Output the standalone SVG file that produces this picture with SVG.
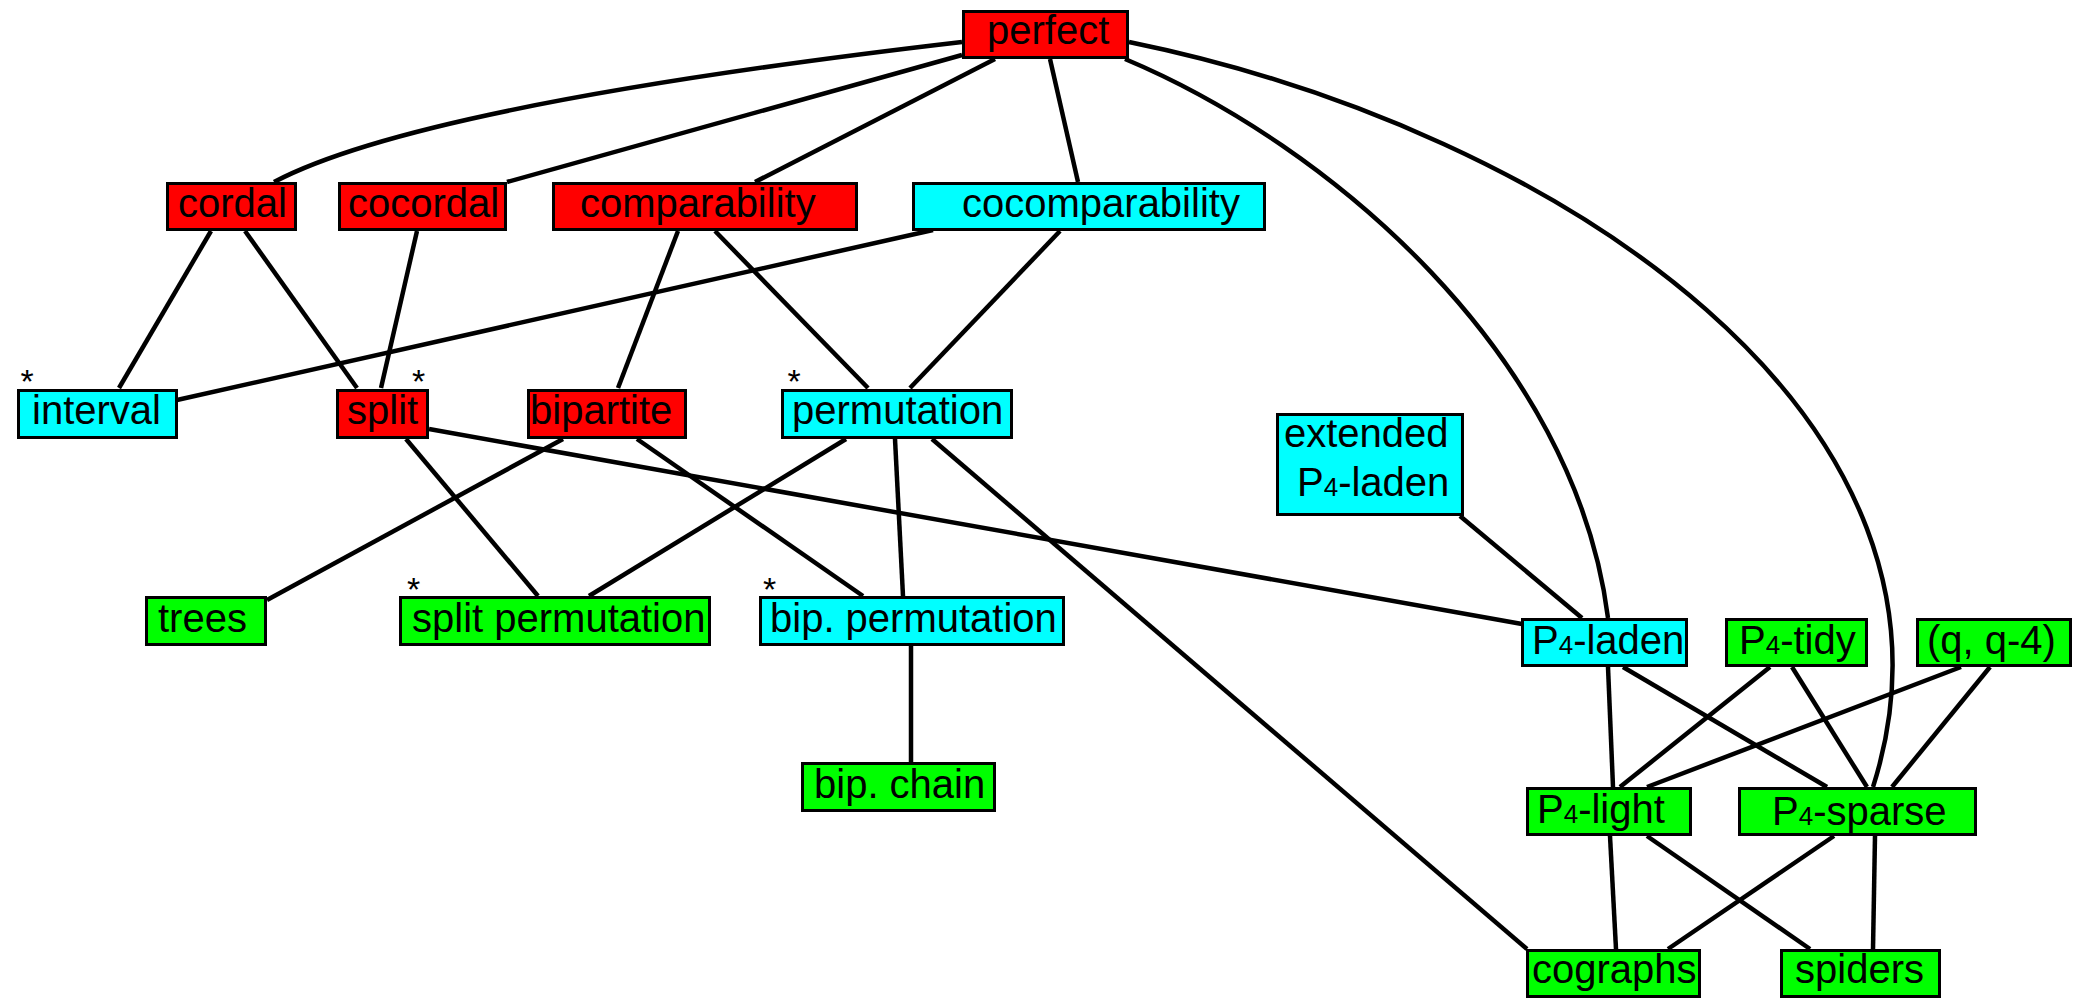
<svg xmlns="http://www.w3.org/2000/svg" width="2080" height="998" viewBox="0 0 2080 998">
  <style>
    .node rect { stroke: #000; stroke-width: 3; }
    .red rect { fill: #ff0000; }
    .cyan rect { fill: #00ffff; }
    .green rect { fill: #00ff00; }
    text { font-family: "Liberation Sans", Arial, sans-serif; font-size: 40px; fill: #000; }
    .sub { font-size: 26px; }
    .star { font-size: 34px; text-anchor: middle; }
    #edges line, #edges path { stroke: #000; stroke-width: 4.5; fill: none; }
  </style>

  <rect width="2080" height="998" fill="#fff"/>

  <g id="edges">
    <!-- perfect -->
    <path d="M962 42 Q420 105 274 182"/>
    <line x1="962" y1="55" x2="507" y2="182"/>
    <line x1="995" y1="59" x2="755" y2="182"/>
    <line x1="1050" y1="59" x2="1078" y2="182"/>
    <path d="M1125 59 C1330 145 1575 355 1608 618"/>
    <path d="M1129 42 C1560 130 1990 420 1873 787"/>
    <!-- second row -->
    <line x1="211" y1="231" x2="119" y2="388"/>
    <line x1="245" y1="231" x2="357" y2="388"/>
    <line x1="417" y1="231" x2="381" y2="388"/>
    <line x1="678" y1="231" x2="618" y2="388"/>
    <line x1="715" y1="231" x2="868" y2="388"/>
    <line x1="933" y1="230" x2="177" y2="400"/>
    <line x1="1060" y1="231" x2="910" y2="388"/>
    <!-- third row -->
    <line x1="429" y1="429" x2="1522" y2="624"/>
    <line x1="563" y1="439" x2="267" y2="600"/>
    <line x1="406" y1="439" x2="538" y2="596"/>
    <line x1="637" y1="439" x2="863" y2="596"/>
    <line x1="846" y1="439" x2="589" y2="596"/>
    <line x1="895" y1="439" x2="903" y2="596"/>
    <line x1="932" y1="439" x2="1527" y2="949"/>
    <line x1="911" y1="646" x2="911" y2="762"/>
    <!-- P4 family -->
    <line x1="1460" y1="516" x2="1582" y2="618"/>
    <line x1="1608" y1="667" x2="1613" y2="787"/>
    <line x1="1623" y1="667" x2="1827" y2="787"/>
    <line x1="1770" y1="667" x2="1620" y2="787"/>
    <line x1="1792" y1="667" x2="1867" y2="787"/>
    <line x1="1961" y1="667" x2="1647" y2="787"/>
    <line x1="1990" y1="667" x2="1892" y2="787"/>
    <line x1="1610" y1="836" x2="1616" y2="949"/>
    <line x1="1647" y1="836" x2="1810" y2="949"/>
    <line x1="1834" y1="836" x2="1668" y2="949"/>
    <line x1="1875" y1="836" x2="1873" y2="949"/>
  </g>

  <g id="perfect" class="node red">
    <rect x="963.5" y="11.5" width="164" height="46"/>
    <text x="987" y="44">perfect</text>
  </g>
  <g id="cordal" class="node red">
    <rect x="167.5" y="183.5" width="128" height="46"/>
    <text x="178" y="217">cordal</text>
  </g>
  <g id="cocordal" class="node red">
    <rect x="339.5" y="183.5" width="166" height="46"/>
    <text x="348" y="217">cocordal</text>
  </g>
  <g id="comparability" class="node red">
    <rect x="553.5" y="183.5" width="303" height="46"/>
    <text x="580" y="217">comparability</text>
  </g>
  <g id="cocomparability" class="node cyan">
    <rect x="913.5" y="183.5" width="351" height="46"/>
    <text x="962" y="217">cocomparability</text>
  </g>

  <g id="interval" class="node cyan">
    <rect x="18.5" y="390.5" width="158" height="47"/>
    <text x="32" y="424">interval</text>
    <text class="star" x="27" y="393">*</text>
  </g>
  <g id="split" class="node red">
    <rect x="337.5" y="390.5" width="90" height="47"/>
    <text x="347" y="424">split</text>
    <text class="star" x="418.5" y="393">*</text>
  </g>
  <g id="bipartite" class="node red">
    <rect x="528.5" y="390.5" width="157" height="47"/>
    <text x="530" y="424">bipartite</text>
  </g>
  <g id="permutation" class="node cyan">
    <rect x="782.5" y="390.5" width="229" height="47"/>
    <text x="792" y="424">permutation</text>
    <text class="star" x="794" y="393">*</text>
  </g>

  <g id="trees" class="node green">
    <rect x="146.5" y="597.5" width="119" height="47"/>
    <text x="158" y="632">trees</text>
  </g>
  <g id="split-permutation" class="node green">
    <rect x="400.5" y="597.5" width="309" height="47"/>
    <text x="412" y="632">split permutation</text>
    <text class="star" x="413.5" y="601">*</text>
  </g>
  <g id="bip-permutation" class="node cyan">
    <rect x="760.5" y="597.5" width="303" height="47"/>
    <text x="770" y="632">bip. permutation</text>
    <text class="star" x="769.5" y="601">*</text>
  </g>
  <g id="bip-chain" class="node green">
    <rect x="802.5" y="763.5" width="192" height="47"/>
    <text x="814" y="798">bip. chain</text>
  </g>

  <g id="extended-p4-laden" class="node cyan">
    <rect x="1277.5" y="414.5" width="185" height="100"/>
    <text x="1284" y="447">extended</text>
    <text x="1297" y="496">P<tspan class="sub">4</tspan>-laden</text>
  </g>
  <g id="p4-laden" class="node cyan">
    <rect x="1522.5" y="619.5" width="164" height="46"/>
    <text x="1532" y="654">P<tspan class="sub">4</tspan>-laden</text>
  </g>
  <g id="p4-tidy" class="node green">
    <rect x="1726.5" y="619.5" width="140" height="46"/>
    <text x="1739" y="654">P<tspan class="sub">4</tspan>-tidy</text>
  </g>
  <g id="q-q4" class="node green">
    <rect x="1917.5" y="619.5" width="153" height="46"/>
    <text x="1927" y="654">(q, q-4)</text>
  </g>
  <g id="p4-light" class="node green">
    <rect x="1527.5" y="788.5" width="163" height="46"/>
    <text x="1537" y="823">P<tspan class="sub">4</tspan>-light</text>
  </g>
  <g id="p4-sparse" class="node green">
    <rect x="1739.5" y="788.5" width="236" height="46"/>
    <text x="1772" y="825">P<tspan class="sub">4</tspan>-sparse</text>
  </g>
  <g id="cographs" class="node green">
    <rect x="1527.5" y="950.5" width="172" height="46"/>
    <text x="1532" y="983">cographs</text>
  </g>
  <g id="spiders" class="node green">
    <rect x="1781.5" y="950.5" width="158" height="46"/>
    <text x="1795" y="983">spiders</text>
  </g>
</svg>
